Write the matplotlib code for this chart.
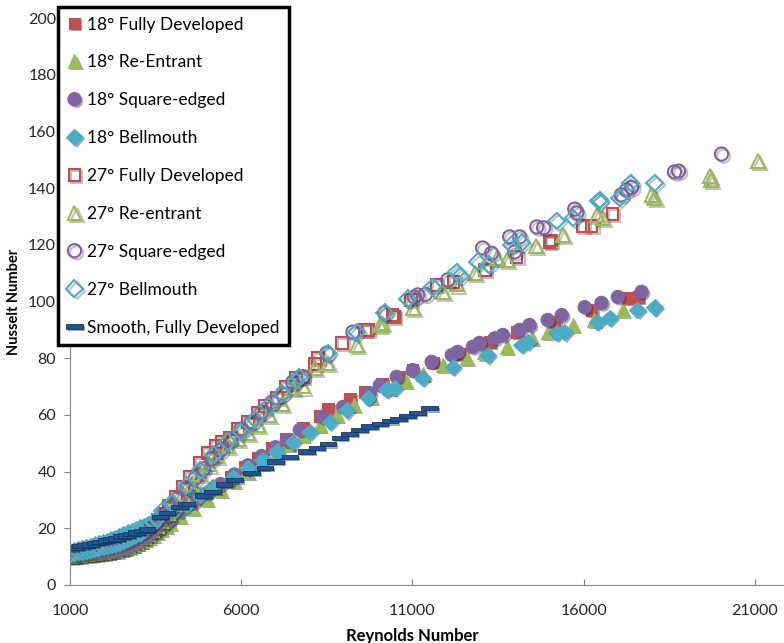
import matplotlib
matplotlib.use("Agg")
import matplotlib.pyplot as plt
import matplotlib.patheffects as pe
from matplotlib.path import Path

plt.rcParams['font.family'] = ['Lato', 'DejaVu Sans']

# ---- data ----
re_18_fd = [1000,1120,1240,1360,1480,1600,1720,1840,1960,2080,2200,2320,2440,2560,2680,2800,2920,3040,3160,3280,3400,3520,3640,3760,3880,
            4100,4500,4900,5300,5700,6100,6500,6900,7300,7800,8300,8530,9170,9600,10100,10600,11000,11590,12440,13260,14040,15150,16230,17280,17600]
nu_18_fd = [10.4,10.6,10.8,11.0,11.1,11.3,11.4,11.6,11.8,12.0,12.3,12.6,13.0,13.4,13.9,14.4,15.0,15.7,16.5,17.3,18.2,19.2,20.2,21.3,22.4,
            24.5,28.0,31.2,34.8,38.2,41.5,44.8,48.2,51.5,55.5,59.5,62.0,65.5,68.0,71.0,73.5,76.0,78.5,81.5,85.7,89.2,92.8,97.0,101.2,101.5]

re_18_re = [1030,1150,1270,1390,1510,1630,1750,1870,1990,2110,2230,2350,2470,2590,2710,2830,2950,3070,3190,3310,3430,3550,3670,3790,3910,
            4200,4600,5000,5400,5800,6200,6600,7000,7400,7800,8300,8800,9300,9800,10300,10800,11300,11880,12580,13100,13750,14500,14950,15680,16300,17140]
nu_18_re = [10.2,10.4,10.6,10.8,11.0,11.1,11.3,11.4,11.6,11.8,12.1,12.4,12.8,13.2,13.6,14.1,14.7,15.4,16.1,16.9,17.8,18.7,19.7,20.8,21.9,
            24.2,27.2,30.2,33.4,36.8,40.0,43.2,46.5,49.8,52.8,56.4,60.0,63.5,66.5,69.5,72.0,74.5,77.6,80.0,82.0,84.0,87.0,89.2,91.7,93.5,97.0]

re_18_se = [1060,1180,1300,1420,1540,1660,1780,1900,2020,2140,2260,2380,2500,2620,2740,2860,2980,3100,3220,3340,3460,3580,3700,3820,3940,
            4200,4600,5000,5400,5800,6200,6600,7000,7330,7710,8380,8970,9750,10050,10540,11010,11560,12150,12320,12760,12960,13400,13640,14130,14420,
            14950,15360,16030,16520,17000,17690]
nu_18_se = [10.6,10.8,11.0,11.2,11.3,11.5,11.6,11.8,12.0,12.2,12.5,12.8,13.2,13.6,14.1,14.6,15.2,15.9,16.7,17.6,18.6,19.7,20.9,22.1,23.4,
            26.0,29.2,32.5,35.6,39.0,42.2,45.5,48.6,51.0,54.7,59.3,62.8,67.7,70.5,73.4,75.8,78.7,81.1,82.2,84.0,85.4,87.0,88.2,90.0,91.7,
            93.5,95.2,98.0,99.5,101.6,103.4]

re_18_bm = [1000,1120,1240,1360,1480,1600,1720,1840,1960,2080,2200,2320,2440,2560,2680,2800,2920,3040,3160,3280,3400,3520,3640,3760,3880,
            4000,4410,4790,5170,5760,6190,6630,7040,7510,8000,8590,9080,9700,10250,10480,11300,12180,13200,14190,14360,15210,15440,16400,16760,17570,18070]
nu_18_bm = [11.8,12.2,12.6,13.0,13.4,13.8,14.2,14.6,15.0,15.5,16.0,16.6,17.2,17.8,18.4,19.0,19.6,20.2,20.8,21.4,22.0,22.6,23.2,24.0,24.8,
            25.6,28.2,31.7,34.6,38.0,41.3,44.0,47.0,50.4,54.0,57.5,61.7,66.0,69.0,69.5,73.0,76.9,81.1,84.7,85.7,88.9,89.2,92.8,94.2,97.0,98.0]

re_27_fd = [1040,1160,1280,1400,1520,1640,1760,1880,2000,2120,2240,2360,2480,2600,2720,2840,2960,3080,3200,3320,3440,3560,
            3700,3900,4100,4300,4500,4800,5030,5250,5440,5670,5900,6190,6490,6700,7050,7300,7600,7800,8150,8250,
            8940,9610,9700,10420,10450,10950,11700,12200,13110,14040,15000,15050,15970,16230,16840]
nu_27_fd = [10.8,11.0,11.2,11.4,11.5,11.7,11.8,12.0,12.2,12.4,12.7,13.0,13.4,13.9,14.5,15.2,16.0,17.0,18.2,19.6,21.2,23.0,
            25.0,28.0,31.0,34.5,38.0,43.0,46.6,49.0,50.5,52.0,55.0,57.5,60.7,63.0,66.0,70.0,73.0,73.5,78.0,80.0,
            85.4,90.0,90.0,95.2,94.5,100.5,105.8,107.0,111.0,115.7,121.0,121.5,126.6,126.6,130.9]

re_27_re = [1010,1130,1250,1370,1490,1610,1730,1850,1970,2090,2210,2330,2450,2570,2690,2810,2930,3050,3170,3290,3410,3530,
            3650,3850,4050,4300,4550,4800,5050,5300,5600,5900,6200,6500,6800,7200,7510,7800,8150,8520,9370,10050,
            10100,11010,11880,12300,12820,13460,13750,14610,15390,16380,16550,17980,18070,19700,19720,21100]
nu_27_re = [10.3,10.5,10.7,10.9,11.0,11.2,11.3,11.5,11.7,11.9,12.2,12.5,12.9,13.3,13.8,14.4,15.1,15.9,16.9,18.0,19.3,20.8,
            22.5,25.5,28.5,32.0,35.5,39.0,42.5,45.5,49.0,51.5,53.5,56.5,60.0,64.0,69.5,70.0,76.5,78.3,84.7,91.7,
            92.4,97.7,103.3,106.0,110.0,115.3,114.6,119.6,123.5,130.5,129.5,137.6,136.5,144.3,142.8,149.6]

re_27_se = [1070,1190,1310,1430,1550,1670,1790,1910,2030,2150,2270,2390,2510,2630,2750,2870,2990,3110,3230,3350,3470,3590,
            3750,3950,4150,4400,4650,4900,5150,5400,5700,6000,6300,6600,6900,7200,7500,7800,8500,9260,10190,11060,
            11150,11380,12030,13050,13310,13840,13990,14130,14630,14830,15740,15800,17100,17250,17400,18650,18770,20025]
nu_27_se = [10.7,10.9,11.1,11.3,11.4,11.6,11.7,11.9,12.1,12.3,12.6,12.9,13.3,13.8,14.3,15.0,15.8,16.7,17.8,19.1,20.6,22.3,
            24.5,27.5,30.5,34.0,37.5,41.0,44.5,47.5,51.5,55.0,57.5,61.0,64.5,67.5,71.5,73.5,81.8,89.2,96.0,101.5,
            102.3,102.5,107.6,118.9,117.0,122.8,117.5,122.8,126.3,126.0,132.6,131.2,137.6,139.3,140.2,145.7,146.0,152.0]

re_27_bm = [1020,1140,1260,1380,1500,1620,1740,1860,1980,2100,2220,2340,2460,2580,2700,2820,2940,3060,3180,3300,3420,3540,
            3700,3980,4400,4800,5200,5600,6000,6400,6800,7200,7600,7700,8530,9370,10190,10860,11590,12290,12400,12900,
            13230,13900,14190,15210,15700,16440,16470,17050,17370,18070]
nu_27_bm = [11.0,11.3,11.6,11.9,12.2,12.5,12.8,13.1,13.4,13.8,14.2,14.6,15.1,15.6,16.2,16.9,17.7,18.6,19.6,20.7,21.9,23.2,
            26.0,29.0,35.0,40.5,46.0,50.5,54.0,58.5,63.0,67.5,72.0,73.4,81.8,89.2,96.0,101.0,105.0,110.4,109.0,114.0,
            113.0,120.0,120.8,128.4,129.5,135.4,135.8,136.5,141.8,141.8]

re_smooth = [1000,1150,1300,1450,1600,1750,1900,2050,2200,2350,2500,2650,2800,2950,3100,3250,
             3630,3830,4200,4410,4900,5170,5500,5810,6300,6690,7000,7420,7900,8210,8530,8880,9170,9460,9750,10050,
             10340,10600,10860,11150,11500]
nu_smooth = [13.0,13.3,13.7,14.0,14.4,14.8,15.2,15.6,16.0,16.5,17.0,17.5,18.0,18.5,19.0,19.5,
             24.0,25.4,27.5,28.6,31.5,32.8,35.5,37.0,39.5,41.3,43.5,45.2,47.0,48.3,49.7,51.9,53.3,54.7,55.8,56.8,
             57.8,58.6,59.6,60.7,62.4]

red = '#C0504D'
green = '#9BBB59'
purple = '#8064A2'
cyan = '#4BACC6'
navy = '#1F5597'

dash = Path([(-1, -0.28), (1, -0.28), (1, 0.28), (-1, 0.28), (-1, -0.28)],
            [Path.MOVETO, Path.LINETO, Path.LINETO, Path.LINETO, Path.CLOSEPOLY])

fig = plt.figure(figsize=(7.84, 6.43), dpi=100)
ax = fig.add_axes([70/784, 58/643, 714/784, 567/643])

filled_shadow = [pe.SimplePatchShadow(offset=(1.5, -1.5), shadow_rgbFace='0.15', alpha=0.4), pe.Normal()]
open_shadow = [pe.SimpleLineShadow(offset=(1.5, -1.5), shadow_color='0.2', alpha=0.3), pe.Normal()]

def filled(x, y, marker, ms, color, label):
    ax.plot(x, y, ls='none', marker=marker, ms=ms, mfc=color, mec=color, mew=0.8,
            label=label, path_effects=filled_shadow)

def hollow(x, y, marker, ms, color, label):
    ax.plot(x, y, ls='none', marker=marker, ms=ms, mfc='none', mec=color, mew=1.5,
            label=label, path_effects=open_shadow)

filled(re_18_fd, nu_18_fd, 's', 8.5, red, '18° Fully Developed')
filled(re_18_re, nu_18_re, '^', 10, green, '18° Re-Entrant')
filled(re_18_se, nu_18_se, 'o', 9.5, purple, '18° Square-edged')
filled(re_18_bm, nu_18_bm, 'D', 8.5, cyan, '18° Bellmouth')
hollow(re_27_fd, nu_27_fd, 's', 8.5, red, '27° Fully Developed')
hollow(re_27_re, nu_27_re, '^', 10, green, '27° Re-entrant')
hollow(re_27_se, nu_27_se, 'o', 9.5, purple, '27° Square-edged')
hollow(re_27_bm, nu_27_bm, 'D', 8.5, cyan, '27° Bellmouth')
ax.plot(re_smooth, nu_smooth, ls='none', marker=dash, ms=12, mfc=navy, mec='#17375E', mew=0.6,
        label='Smooth, Fully Developed', path_effects=filled_shadow)

ax.set_xlim(1000, 21850)
ax.set_ylim(0, 200)
ax.set_xticks([1000, 6000, 11000, 16000, 21000])
ax.set_yticks(range(0, 201, 20))
ax.tick_params(axis='x', direction='in', length=4, color='#868686', labelsize=11.5, pad=14, labelcolor='#262626')
ax.tick_params(axis='y', direction='out', length=4, color='#868686', labelsize=11.5, pad=6, labelcolor='#262626')
for s in ['top', 'right']:
    ax.spines[s].set_visible(False)
for s in ['left', 'bottom']:
    ax.spines[s].set_color('#868686')

ax.set_xlabel('Reynolds Number', fontsize=12, fontweight='bold', labelpad=4)
ax.xaxis.set_label_coords(0.48, -0.075)
ax.set_ylabel('Nusselt Number', fontsize=10.5, fontweight='bold', labelpad=5)

leg = ax.legend(loc='upper left', bbox_to_anchor=(58/784, 1 - 7/643), bbox_transform=fig.transFigure,
                fontsize=12.5, labelspacing=1.26, handlelength=0.8, handletextpad=0.3,
                borderpad=0.55, borderaxespad=0, fancybox=False, framealpha=1)
leg.get_frame().set_edgecolor('black')
leg.get_frame().set_linewidth(2.5)

fig.savefig('out.png', dpi=100)
